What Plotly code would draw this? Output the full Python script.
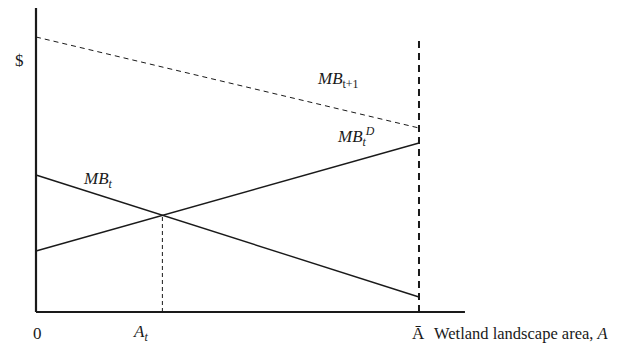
import plotly.graph_objects as go

# ---- data (abstract units) ----
A_bar = 10.0
A_ends = [0.0, A_bar]
mb_next = [27.5, 18.4]      # MB_{t+1}
mb_dev = [6.1, 16.9]        # MB_t^D
mb_t = [13.7, 1.5]          # MB_t
A_t = 3.3                   # intersection area
mb_at = 9.67                # value at intersection
y_axis_top = 30.4
x_axis_end = 11.2

FONT = "Liberation Serif"
INK = "#1a1a1a"

fig = go.Figure()

def line(x, y, width=1.3, dash="solid", color=INK):
    fig.add_trace(go.Scatter(x=x, y=y, mode="lines", hoverinfo="skip",
                             line=dict(color=color, width=width, dash=dash),
                             showlegend=False))

# axes
line([0, 0], [0, y_axis_top], width=2.2)
line([0, x_axis_end], [0, 0], width=2.2)
# curves
line(A_ends, mb_next, width=1, dash="5px,4px")
line(A_ends, mb_dev, width=1.4)
line(A_ends, mb_t, width=1.4)
# vertical lines
line([A_bar, A_bar], [0, mb_next[0]], width=2, dash="7px,5px")
line([A_t, A_t], [0, mb_at], width=1, dash="4px,3px")

def text(x, y, s, anchor="center", size=17):
    fig.add_annotation(x=x, y=y, text=s, showarrow=False, xanchor=anchor,
                       yanchor="middle", font=dict(family=FONT, size=size, color=INK))

text(-0.44, 25.2, "$")
text(7.89, 23.2, "<i>MB</i><sub>t+1</sub>")
text(8.36, 17.6, "<i>MB</i><sub><i>t</i></sub><sup><i>D</i></sup>")
text(1.62, 13.2, "<i>MB</i><sub><i>t</i></sub>")
text(0.05, -2.1, "0")
text(2.72, -2.1, "<i>A</i><sub><i>t</i></sub>")
text(10.0, -2.1, "Ā")
text(10.34, -2.1, "Wetland landscape area, <i>A</i>", anchor="left", size=16.5)

fig.update_layout(
    width=610, height=336,
    margin=dict(l=0, r=0, t=0, b=0),
    paper_bgcolor="white", plot_bgcolor="white",
    xaxis=dict(range=[-0.731, 15.196], visible=False, fixedrange=True),
    yaxis=dict(range=[-3.2, 30.4], visible=False, fixedrange=True),
)

fig.write_html("out.html")
